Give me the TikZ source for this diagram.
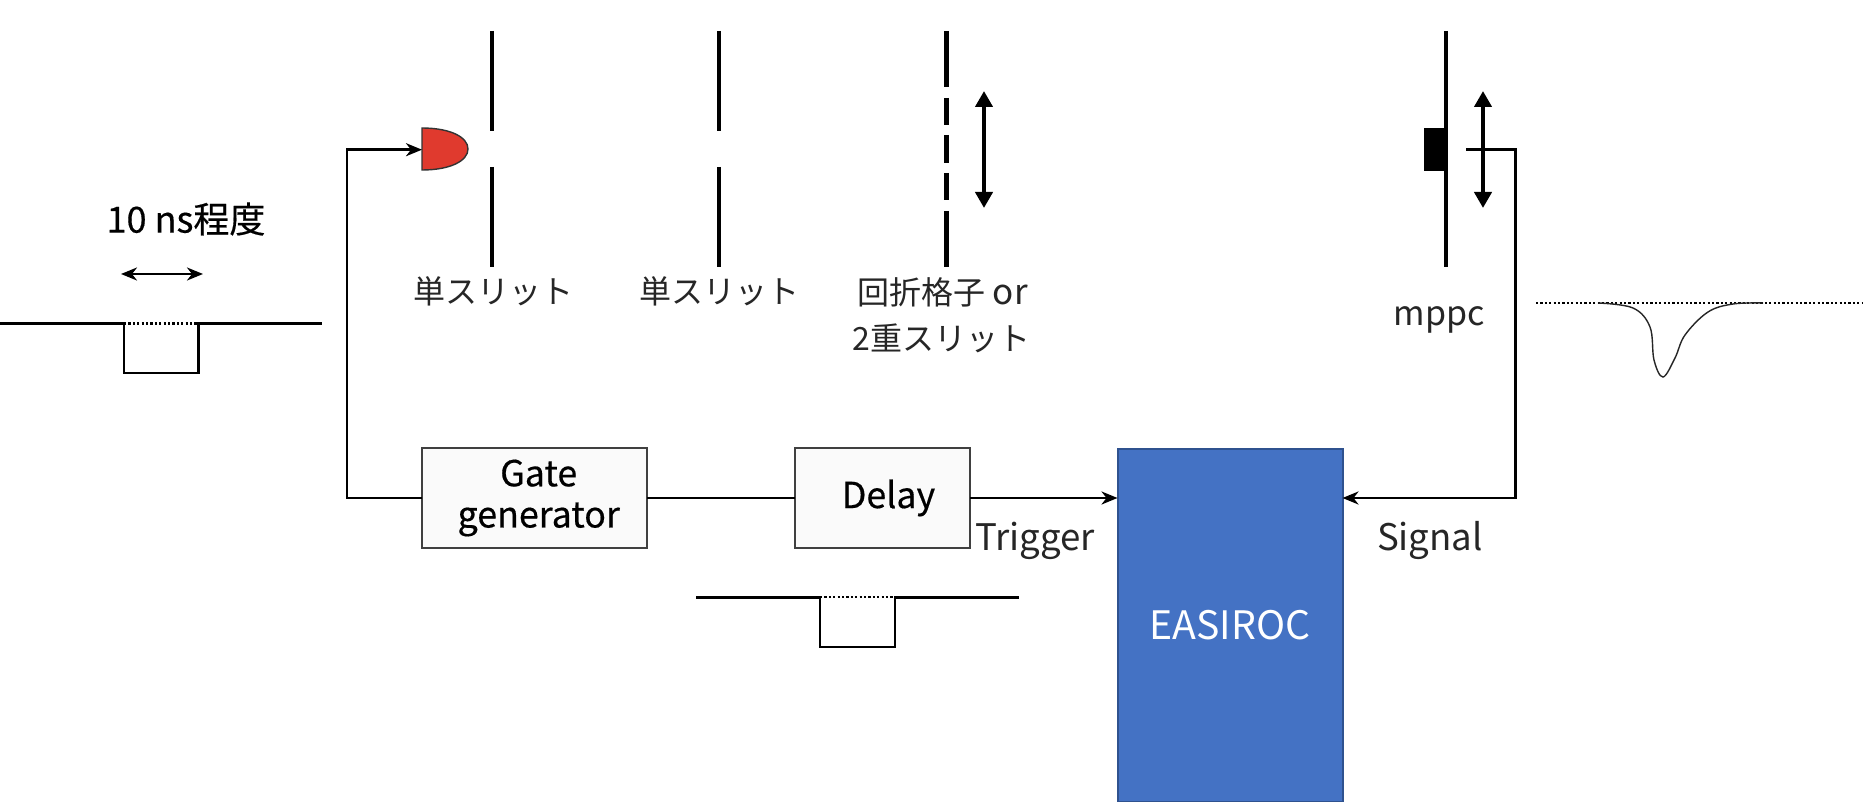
\documentclass[tikz,border=0pt]{standalone}
\usepackage{fontspec}
\setmainfont{Noto Sans CJK JP}
\newfontfamily\medfont[FakeBold=0.4]{Noto Sans CJK JP}
\usetikzlibrary{arrows.meta,calc}
\tikzset{
  wire/.style={line width=1.25pt,black},
  wirearrow/.style={wire,-{Stealth[length=8pt,width=6.5pt,inset=2.5pt]}},
  bothwire/.style={wire,{Stealth[length=8pt,width=6.5pt,inset=2.5pt]}-{Stealth[length=8pt,width=6.5pt,inset=2.5pt]}},
  slitbar/.style={line width=2.3pt,black},
  thinbar/.style={line width=1.9pt,black},
  moveto/.style={line width=2pt,black,{Triangle[length=8pt,width=8.5pt]}-{Triangle[length=8pt,width=8.5pt]}},
  pulseline/.style={line width=1.3pt,black},
  dotline/.style={line width=1.2pt,black,dash pattern=on 1.1pt off 1.1pt},
  blockbox/.style={draw=black!75,line width=1pt,fill=black!2,outer sep=0pt,minimum height=50pt,align=center,font=\medfont\fontsize{17.9}{20.6}\selectfont,text=black},
  lab/.style={font=\fontsize{16}{19}\selectfont,text=black!85,inner sep=0pt},
  latinlab/.style={font=\fontsize{18.3}{22}\selectfont,text=black!85,inner sep=0pt},
}
\begin{document}
\begin{tikzpicture}[x=0.5pt,y=-0.5pt]
\useasboundingbox (0,0) rectangle (1864,802);
\fill[white] (0,0) rectangle (1864,802);
\begin{scope}[shift={(0,1)}]
% slits
\draw[slitbar] (492,30) -- (492,130) (492,166) -- (492,266);
\draw[thinbar] (719,30) -- (719,130) (719,166) -- (719,266);
\draw[slitbar] (946.7,30) -- (946.7,86) (946.7,97) -- (946.7,124) (946.7,134) -- (946.7,162) (946.7,172) -- (946.7,199) (946.7,210) -- (946.7,266);
\draw[moveto] (984,90) -- (984,207);
\draw[thinbar] (1445.7,30) -- (1445.7,266);
\fill[black] (1424,127) rectangle (1447,170);
\draw[moveto] (1483,90) -- (1483,207);

% detector
\draw[fill={rgb,255:red,224;green,58;blue,46},draw=black!80,line width=0.7pt]
  (422,127) .. controls (450,127) and (468,136) .. (468,148) .. controls (468,160) and (450,169) .. (422,169) -- cycle;
\coordinate (det) at (422,148.7);

% blocks
\node[blockbox,minimum width=112.5pt] (gate) at (534.5,497) {\hspace{4.2pt}Gate\\\hspace{4.2pt}generator};
\node[blockbox,minimum width=87.5pt] (delay) at (882.5,497) {\hspace{6pt}Delay};
\node[draw={rgb,255:red,47;green,82;blue,143},fill={rgb,255:red,68;green,114;blue,196},line width=1pt,outer sep=0pt,minimum width=112.5pt,minimum height=176.5pt,text=white,font=\fontsize{19.6}{23}\selectfont] (easiroc) at (1230,624.5) {EASIROC};

% connectors
\coordinate (gatecorner) at (347,497);
\coordinate (mppcout) at (1466,148.7);
\coordinate (mppcdown) at (1515.7,148.7);
\draw[wirearrow] (gate.west) -- (gatecorner) |- (det);
\draw[wire] (gate.east) -- (delay.west);
\draw[wirearrow] (delay.east) -- (delay.east -| easiroc.west);
\draw[wirearrow] (mppcout) -- (mppcdown) |- (easiroc.east |- delay.east);

% pulses
\draw[pulseline] (-4,322.5) -- (124,322.5) -- (124,372) -- (198.5,372) -- (198.5,322.5) -- (322,322.5);
\draw[dotline] (124,322.5) -- (198.5,322.5);
\coordinate (widthL) at (121,273);
\coordinate (widthR) at (203,273);
\draw[bothwire] (widthL) -- (widthR);
\draw[pulseline] (696,596.2) -- (820,596.2) -- (820,646) -- (895,646) -- (895,596.2) -- (1019,596.2);
\draw[dotline] (820,596.2) -- (895,596.2);
\draw[dotline] (1536,302) -- (1863,302);
\draw[line width=0.7pt,black!85] plot[smooth,tension=0.6] coordinates {(1598,302) (1633,307) (1650,326) (1654,359) (1663,376) (1675,357) (1685,334) (1708,311) (1733,303) (1763,302)};

% labels
\node[lab,text=black,font=\medfont\fontsize{18}{21}\selectfont] (width) at (186,218) {10 ns程度};
\node[lab] (s1) at (493,290) {単スリット};
\node[lab] (s2) at (719,290) {単スリット};
\node[lab] (s3a) at (942.6,291) {回折格子 {\fontsize{17.5}{19}\selectfont or}};
\node[lab] (s3b) at (941.6,337) {2重スリット};
\node[latinlab,font=\fontsize{17}{20}\selectfont] (mppc) at (1439,319) {mppc};
\node[latinlab] (trig) at (1035,540) {Trigger};
\node[latinlab] (sig) at (1430,540) {Signal};
\end{scope}
\end{tikzpicture}
\end{document}
